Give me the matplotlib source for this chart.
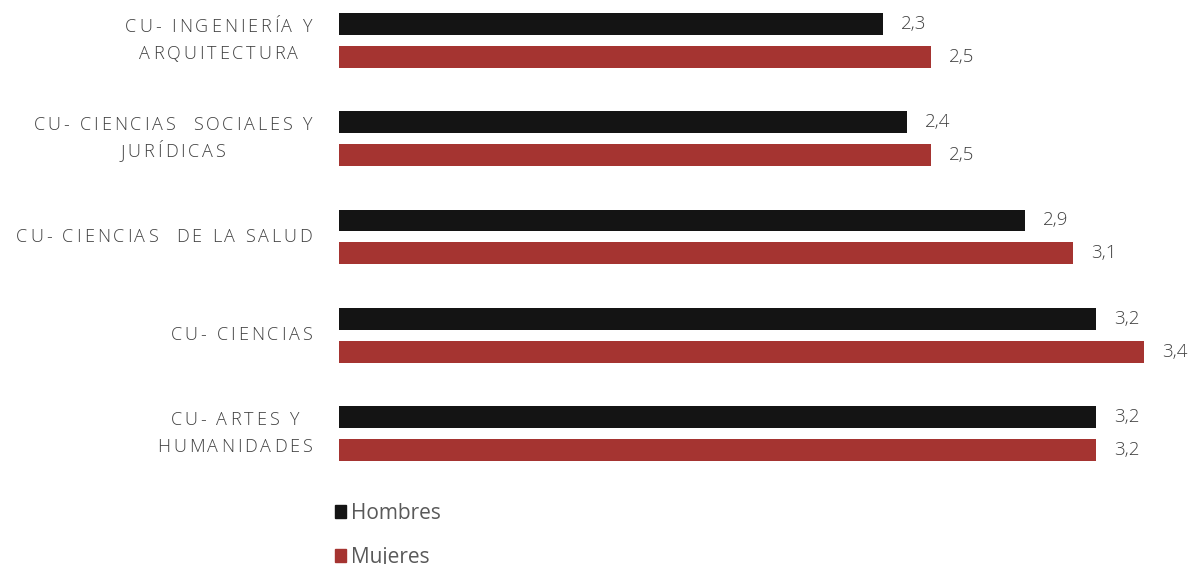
import matplotlib
matplotlib.use("Agg")
import matplotlib.pyplot as plt
from matplotlib.patches import Patch
from matplotlib.font_manager import FontProperties
from matplotlib.transforms import IdentityTransform

# Data
categorias = [
    ["CU- INGENIERÍA Y", "ARQUITECTURA"],
    ["CU- CIENCIAS  SOCIALES Y", "JURÍDICAS"],
    ["CU- CIENCIAS  DE LA SALUD"],
    ["CU- CIENCIAS"],
    ["CU- ARTES Y", "HUMANIDADES"],
]
hombres = [2.3, 2.4, 2.9, 3.2, 3.2]
mujeres = [2.5, 2.5, 3.1, 3.4, 3.2]
series = ["Hombres", "Mujeres"]

W, H = 1191, 564
DPI = 100
col_h = "#141414"
col_m = "#A53431"
txt_col = "#404040"

fig = plt.figure(figsize=(W / DPI, H / DPI), dpi=DPI)
ax = fig.add_axes([339 / W, 0, 1 - 339 / W, 1])
ax.set_xlim(0, 3.6)
ax.set_ylim(5.328, -0.41)
ax.axis("off")

bar_h = 0.223
off = 0.167
ys = list(range(len(categorias)))
ax.barh([y - off for y in ys], hombres, height=bar_h, color=col_h, label=series[0])
ax.barh([y + off for y in ys], mujeres, height=bar_h, color=col_m, label=series[1])

val_font = dict(family="Open Sans", weight="light", size=13.5, color=txt_col)
for y, v in zip(ys, hombres):
    ax.annotate(f"{v:.1f}".replace(".", ","), (v, y - off), xytext=(13, 0),
                textcoords="offset points", va="center", ha="left", **val_font)
for y, v in zip(ys, mujeres):
    ax.annotate(f"{v:.1f}".replace(".", ","), (v, y + off), xytext=(13, 0),
                textcoords="offset points", va="center", ha="left", **val_font)

# Category labels with letter spacing
prop = FontProperties(family="Open Sans", weight="light", size=13)
renderer = fig.canvas.get_renderer()
track = 2.9
right_edge = 312
line_gap = 27


def line_width(s):
    ws = [renderer.get_text_width_height_descent(c, prop, ismath=False)[0] for c in s]
    return ws, sum(ws) + track * (len(s) - 1)


for y, lines in zip(ys, categorias):
    yc = ax.transData.transform((0, y))[1]
    measured = [line_width(s) for s in lines]
    block = max(m[1] for m in measured)
    center = right_edge - block / 2
    n = len(lines)
    for k, (s, (ws, tot)) in enumerate(zip(lines, measured)):
        ypix = yc + (n - 1) * line_gap / 2 - k * line_gap
        x = center - tot / 2
        for c, w in zip(s, ws):
            fig.text(x, ypix, c, fontproperties=prop, color=txt_col,
                     va="center", ha="left", transform=IdentityTransform())
            x += w + track

handles = [Patch(color=col_h), Patch(color=col_m)]
fig.legend(handles, series, loc="upper left",
           bbox_to_anchor=(335 / W, 1 - 503 / H), frameon=False,
           prop=FontProperties(family="Open Sans", size=15),
           labelcolor="#595959", handlelength=0.55, handleheight=0.55,
           handletextpad=0.2, labelspacing=1.1, borderpad=0, borderaxespad=0)

fig.savefig("out.png", dpi=DPI)
